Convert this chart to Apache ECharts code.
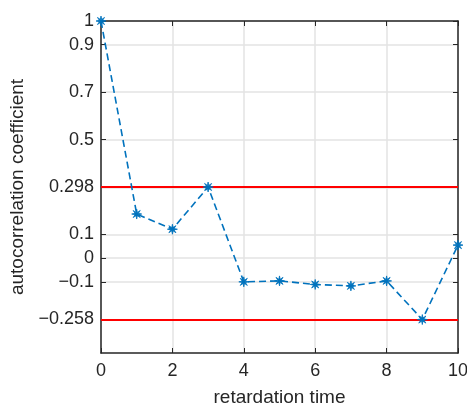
<!DOCTYPE html>
<html>
<head>
<meta charset="utf-8">
<script src="https://cdn.jsdelivr.net/npm/echarts@6/dist/echarts.min.js"></script>
<style>html,body{margin:0;padding:0;background:#fff;}#c{width:467px;height:405px;}</style>
</head>
<body>
<div id="c"></div>
<script>
var lags = [0, 1, 2, 3, 4, 5, 6, 7, 8, 9, 10];
var acf = [1.0, 0.186, 0.122, 0.300, -0.100, -0.096, -0.111, -0.117, -0.096, -0.259, 0.055];
var yTicks = [-0.258, -0.1, 0, 0.1, 0.298, 0.5, 0.7, 0.9, 1];
var confBounds = [0.298, -0.258];
var xTitle = 'retardation time';
var yTitle = 'autocorrelation coefficient';

var axisColor = '#262626';
var gridColor = '#e3e3e3';
var font = 'Liberation Sans';
var star = 'path://M20,10L13.23,11.34L17.07,17.07L11.34,13.23L10,20L8.66,13.23L2.93,17.07L6.77,11.34L0,10L6.77,8.66L2.93,2.93L8.66,6.77L10,0L11.34,6.77L17.07,2.93L13.23,8.66Z';

var chart = echarts.init(document.getElementById('c'), null, {renderer: 'canvas'});
var fmt = function (v) { return String(v).replace('-', '\u2212'); };
chart.setOption({
  animation: false,
  backgroundColor: '#fff',
  grid: {left: 101, right: 9, top: 21, bottom: 52, containLabel: false, outerBoundsMode: 'none'},
  xAxis: [{
    type: 'value', min: 0, max: 10, interval: 2,
    name: xTitle, nameLocation: 'middle', nameGap: 35,
    nameTextStyle: {fontFamily: font, fontSize: 19, color: axisColor},
    axisLine: {onZero: false, lineStyle: {color: axisColor, width: 1.5}},
    axisTick: {inside: true, length: 5, lineStyle: {color: axisColor}},
    axisLabel: {fontFamily: font, fontSize: 18, color: axisColor, margin: 9},
    splitLine: {show: true, lineStyle: {color: gridColor, width: 1.5}}
  }, {
    type: 'value', min: 0, max: 10, interval: 2, position: 'top',
    axisLine: {onZero: false, lineStyle: {color: axisColor, width: 1.5}},
    axisTick: {inside: true, length: 5, lineStyle: {color: axisColor}},
    axisLabel: {show: false}, splitLine: {show: false}
  }],
  yAxis: [{
    type: 'value', min: -0.4, max: 1,
    name: yTitle, nameLocation: 'middle', nameGap: 66, nameRotate: 90,
    nameTextStyle: {fontFamily: font, fontSize: 19, color: axisColor},
    axisLine: {show: true, onZero: false, lineStyle: {color: axisColor, width: 1.5}},
    axisTick: {show: true, inside: true, length: 5, customValues: yTicks, lineStyle: {color: axisColor}},
    axisLabel: {fontFamily: font, fontSize: 18, color: axisColor, margin: 7, customValues: yTicks, formatter: fmt},
    splitLine: {show: true, lineStyle: {color: gridColor, width: 1.5}}
  }, {
    type: 'value', min: -0.4, max: 1, position: 'right',
    axisLine: {show: true, onZero: false, lineStyle: {color: axisColor, width: 1.5}},
    axisTick: {show: true, inside: true, length: 5, customValues: yTicks, lineStyle: {color: axisColor}},
    axisLabel: {show: false, customValues: yTicks}, splitLine: {show: false}
  }],
  series: [{
    type: 'line', data: [], z: 3,
    markLine: {
      silent: true, symbol: 'none', animation: false,
      label: {show: false},
      lineStyle: {color: '#ff0000', width: 1.8, type: 'solid'},
      data: confBounds.map(function (v) { return {yAxis: v}; })
    }
  }, {
    type: 'line', z: 5,
    data: lags.map(function (x, i) { return [x, acf[i]]; }),
    symbol: star, symbolSize: 10,
    itemStyle: {color: '#0072BD', borderColor: '#0072BD', borderWidth: 0.8},
    lineStyle: {color: '#0072BD', width: 1.6, type: [7, 4]},
    clip: false
  }]
});
</script>
</body>
</html>
